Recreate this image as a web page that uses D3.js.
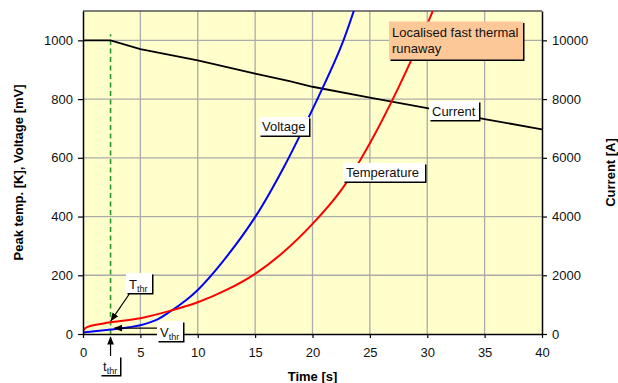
<!DOCTYPE html>
<html>
<head>
<meta charset="utf-8">
<script src="https://cdn.jsdelivr.net/npm/d3@7"></script>
<style>
  html, body { margin: 0; padding: 0; background: #fff; }
  svg { display: block; font-family: Arial, "Liberation Sans", sans-serif; }
</style>
</head>
<body>
<svg id="chart" width="618" height="383"></svg>
<script>
// Time axis [s]
const timeTicks = [0, 5, 10, 15, 20, 25, 30, 35, 40];
const leftTicks = [0, 200, 400, 600, 800, 1000];
const rightTicks = [0, 2000, 4000, 6000, 8000, 10000];

// Peak temperature [K]
const tempTime = [0, 0.15, 0.4, 0.8, 1.5, 2.4, 5, 7.5, 10, 12.5, 15, 17.5, 20, 22.5, 25, 27.5, 30, 31.5];
const tempValue = [10, 18, 24, 29, 34, 40, 54, 78, 108, 150, 205, 280, 375, 490, 650, 840, 1055, 1200];

// Voltage [mV]
const voltTime = [0, 1, 2.4, 4, 5, 6.5, 7.5, 9, 10, 12, 15, 17.5, 20, 22.5, 24.3];
const voltValue = [5, 9, 15, 23, 30, 50, 74, 116, 150, 238, 398, 568, 765, 980, 1185];

// Current [A]
const currTime = [0, 2.4, 5, 10, 15, 18, 20, 25, 30, 35, 40];
const currValue = [10000, 10000, 9700, 9320, 8870, 8610, 8420, 8050, 7690, 7320, 6970];

// Threshold time [s]
const tThr = 2.4;

const W = 618, H = 383;
const m = { left: 83, right: 76, top: 11, bottom: 49 };
const pw = W - m.left - m.right, ph = H - m.top - m.bottom;

const svg = d3.select("#chart");
const x = d3.scaleLinear().domain([0, 40]).range([m.left, m.left + pw]);
const yL = d3.scaleLinear().domain([0, 1100]).range([m.top + ph, m.top]);
const yR = d3.scaleLinear().domain([0, 11000]).range([m.top + ph, m.top]);

// plot background
svg.append("rect").attr("x", m.left).attr("y", m.top).attr("width", pw).attr("height", ph)
  .attr("fill", "#FFFFCC");

// grid
const grid = svg.append("g").attr("stroke", "#ABABAB").attr("stroke-width", 1.3);
timeTicks.slice(1, -1).forEach(t => grid.append("line")
  .attr("x1", x(t)).attr("x2", x(t)).attr("y1", m.top).attr("y2", m.top + ph));
leftTicks.slice(1).forEach(v => grid.append("line")
  .attr("x1", m.left).attr("x2", m.left + pw).attr("y1", yL(v)).attr("y2", yL(v)));

// top frame
svg.append("line").attr("x1", m.left).attr("x2", m.left + pw).attr("y1", m.top).attr("y2", m.top)
  .attr("stroke", "#555").attr("stroke-width", 1.3);

// clipped series
svg.append("clipPath").attr("id", "plotclip").append("rect")
  .attr("x", m.left).attr("y", m.top).attr("width", pw).attr("height", ph);
const series = svg.append("g").attr("clip-path", "url(#plotclip)");

// threshold marker
series.append("line").attr("x1", x(tThr)).attr("x2", x(tThr))
  .attr("y1", yL(0)).attr("y2", yL(1000) - 6)
  .attr("stroke", "#2A9A2A").attr("stroke-width", 1.6).attr("stroke-dasharray", "5,3.5");

const lineL = d3.line().x(d => x(d[0])).y(d => yL(d[1])).curve(d3.curveCatmullRom.alpha(0.5));
const lineR = d3.line().x(d => x(d[0])).y(d => yR(d[1])).curve(d3.curveLinear);

series.append("path").datum(currTime.map((t, i) => [t, currValue[i]]))
  .attr("d", lineR).attr("fill", "none").attr("stroke", "#000").attr("stroke-width", 1.8);
series.append("path").datum(voltTime.map((t, i) => [t, voltValue[i]]))
  .attr("d", lineL).attr("fill", "none").attr("stroke", "#0000FF").attr("stroke-width", 2);
series.append("path").datum(tempTime.map((t, i) => [t, tempValue[i]]))
  .attr("d", lineL).attr("fill", "none").attr("stroke", "#FF0000").attr("stroke-width", 2);

// axes
const axisFont = g => g.selectAll("text").attr("font-size", 13).attr("fill", "#111")
  .attr("font-family", "Arial, 'Liberation Sans', sans-serif");
const axisLine = g => { g.select(".domain").attr("stroke", "#000").attr("stroke-width", 1.5);
  g.selectAll(".tick line").attr("stroke", "#000").attr("stroke-width", 1.2); };
const fmt = d3.format("d");

svg.append("g").attr("transform", `translate(${m.left},0)`)
  .call(d3.axisLeft(yL).tickValues(leftTicks).tickFormat(fmt).tickSize(5).tickSizeOuter(0).tickPadding(5))
  .call(axisFont).call(axisLine);
svg.append("g").attr("transform", `translate(${m.left + pw},0)`)
  .call(d3.axisRight(yR).tickValues(rightTicks).tickFormat(fmt).tickSize(5).tickSizeOuter(0).tickPadding(5))
  .call(axisFont).call(axisLine);
svg.append("g").attr("transform", `translate(0,${m.top + ph})`)
  .call(d3.axisBottom(x).tickValues(timeTicks).tickFormat(fmt).tickSize(4).tickSizeOuter(0).tickPadding(10))
  .call(axisFont).call(axisLine);

// axis titles
svg.append("text").attr("x", x(20)).attr("y", 381).attr("text-anchor", "middle")
  .attr("font-size", 13).attr("font-weight", "bold").text("Time [s]");
svg.append("text").attr("transform", `translate(23,${m.top + ph / 2}) rotate(-90)`)
  .attr("text-anchor", "middle").attr("font-size", 13).attr("font-weight", "bold")
  .text("Peak temp. [K], Voltage [mV]");
svg.append("text").attr("transform", `translate(615,${m.top + ph / 2}) rotate(-90)`)
  .attr("text-anchor", "middle").attr("font-size", 13).attr("font-weight", "bold")
  .text("Current [A]");

// callout boxes with a hard shadow on the right and bottom
function box(x0, y0, w, h, fill) {
  svg.append("rect").attr("x", x0 + 1.5).attr("y", y0 + 1.5).attr("width", w).attr("height", h).attr("fill", "#000");
  svg.append("rect").attr("x", x0).attr("y", y0).attr("width", w).attr("height", h).attr("fill", fill);
}
function label(x0, y0, w, h, txt, sub) {
  box(x0, y0, w, h, "#fff");
  const t = svg.append("text").attr("x", x0 + 3).attr("y", y0 + h - 4.5).attr("font-size", 13).attr("fill", "#111");
  t.append("tspan").text(txt);
  if (sub) t.append("tspan").attr("font-size", 9).attr("dy", 3).text(sub);
}

// arrows
svg.append("defs").append("marker").attr("id", "arrow").attr("viewBox", "0 0 10 10")
  .attr("refX", 9).attr("refY", 5).attr("markerWidth", 7).attr("markerHeight", 7)
  .attr("orient", "auto-start-reverse").append("path").attr("d", "M0,1 L10,5 L0,9 z").attr("fill", "#000");
function arrow(x1, y1, x2, y2) {
  svg.append("line").attr("x1", x1).attr("y1", y1).attr("x2", x2).attr("y2", y2)
    .attr("stroke", "#000").attr("stroke-width", 1.2).attr("marker-end", "url(#arrow)");
}

arrow(130, 293, x(tThr) + 0.5, yL(42) - 1);
arrow(158, yL(20), x(tThr) + 4, yL(20));
arrow(x(tThr), 357, x(tThr), 337);

label(126, 273, 26, 20, "T", "thr");
label(157, 321, 26, 20, "V", "thr");
label(100, 356, 20, 19, "t", "thr");

label(259, 117, 50, 18.5, "Voltage");
label(343, 163, 82, 18.5, "Temperature");
label(429, 101, 50, 19, "Current");

box(389, 21.5, 134, 38, "#FCC898");
const lt = svg.append("text").attr("font-size", 13).attr("fill", "#111");
lt.append("tspan").attr("x", 392).attr("y", 37).text("Localised fast thermal");
lt.append("tspan").attr("x", 392).attr("y", 53).text("runaway");
</script>
</body>
</html>
